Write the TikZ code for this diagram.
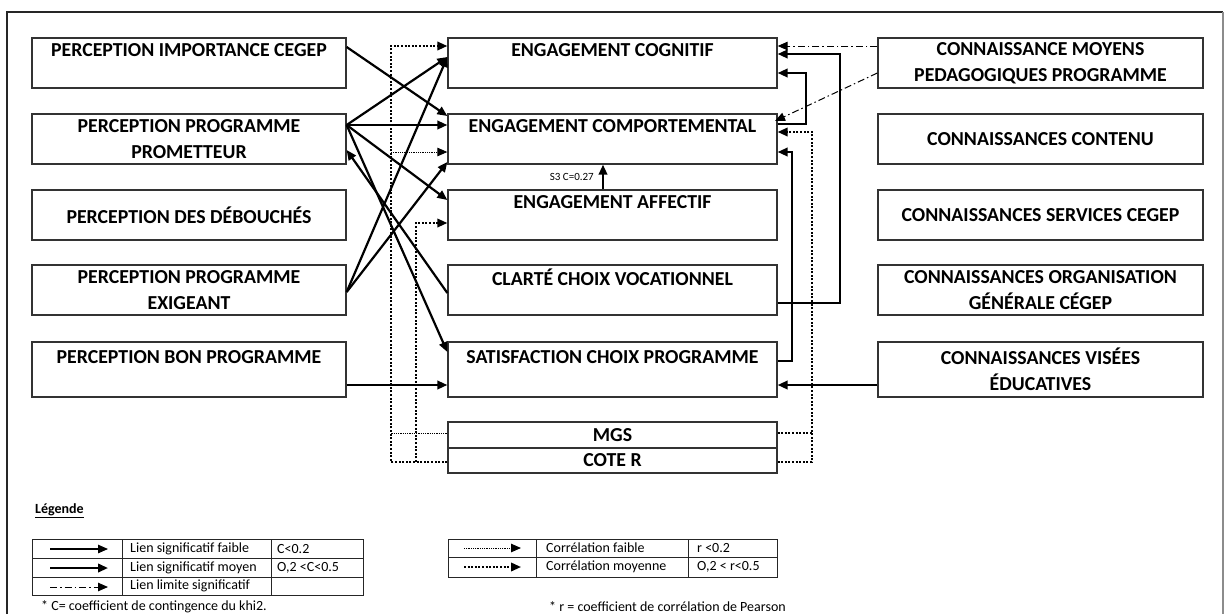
\documentclass[tikz,border=0pt]{standalone}
\usepackage{fontspec}
\setmainfont{Carlito}
\usetikzlibrary{arrows.meta,calc}
\begin{document}
\begin{tikzpicture}[x=1pt,y=-1pt,
  box/.style={draw=black!80, line width=1.3pt, align=center, inner sep=0pt,
    font=\bfseries\fontsize{19.8}{26}\selectfont, text=black},
  lbox/.style={box, minimum width=314pt},
  mbox/.style={box, minimum width=329pt},
  rbox/.style={box, minimum width=325pt},
  tip/.style={-{Triangle[length=10pt,width=8.5pt]}},
  sarrow/.style={line width=2.2pt, tip, line join=miter},
  thinarrow/.style={line width=1.1pt, tip},
  ddarrow/.style={line width=1pt, dash pattern=on 7pt off 3pt on 1.5pt off 3pt, tip},
  dotm/.style={line width=2pt, dash pattern=on 2pt off 1.6pt},
  dotmarrow/.style={dotm, tip},
  dotf/.style={line width=1pt, dash pattern=on 1pt off 0.8pt},
  dotfarrow/.style={dotf, tip},
  tab/.style={draw=black!85, line width=1pt},
  legtxt/.style={font=\fontsize{14}{16}\selectfont, anchor=west, inner sep=0pt}
]
\useasboundingbox (0,0) rectangle (1225,614);
% frame
\draw[line width=2pt, black!85] (7,614) -- (7,12) -- (1223,12);
\draw[line width=1.2pt, black!45] (1223,12) -- (1223,614);

% left column
\node[lbox, minimum height=50pt] (L1) at (189,63) {PERCEPTION IMPORTANCE CEGEP\\\mbox{}};
\node[lbox, minimum height=50pt] (L2) at (189,139) {PERCEPTION PROGRAMME\\PROMETTEUR};
\node[lbox, minimum height=50pt] (L3) at (189,215) {PERCEPTION DES DÉBOUCHÉS};
\node[lbox, minimum height=50pt] (L4) at (189,290) {PERCEPTION PROGRAMME\\EXIGEANT};
\node[lbox, minimum height=55pt] (L5) at (189,369.5) {PERCEPTION BON PROGRAMME\\\mbox{}};

% middle column
\node[mbox, minimum height=50pt] (M1) at (612.5,63) {ENGAGEMENT COGNITIF\\\mbox{}};
\node[mbox, minimum height=50pt] (M2) at (612.5,139) {ENGAGEMENT COMPORTEMENTAL\\\mbox{}};
\node[mbox, minimum height=50pt] (M3) at (612.5,215) {ENGAGEMENT AFFECTIF\\\mbox{}};
\node[mbox, minimum height=50pt] (M4) at (612.5,290) {CLARTÉ CHOIX VOCATIONNEL\\\mbox{}};
\node[mbox, minimum height=55pt] (M5) at (612.5,369.5) {SATISFACTION CHOIX PROGRAMME\\\mbox{}};
\node[mbox, minimum height=26pt] (MGS) at (612.5,435) {MGS};
\node[mbox, minimum height=25pt] (CR) at (612.5,460.5) {COTE R};

% right column
\node[rbox, minimum height=50pt] (R1) at (1040.5,63) {CONNAISSANCE MOYENS\\PEDAGOGIQUES PROGRAMME};
\node[rbox, minimum height=50pt] (R2) at (1040.5,139) {CONNAISSANCES CONTENU};
\node[rbox, minimum height=50pt] (R3) at (1040.5,215) {CONNAISSANCES SERVICES CEGEP};
\node[rbox, minimum height=50pt] (R4) at (1040.5,290) {CONNAISSANCES ORGANISATION\\GÉNÉRALE CÉGEP};
\node[rbox, minimum height=55pt] (R5) at (1040.5,369.5) {CONNAISSANCES VISÉES\\ÉDUCATIVES};

% left-side solid arrows
\draw[sarrow] (L1.east|-0,47) -- (M2.west|-0,116);
\draw[sarrow] (L2.east|-0,125) -- (M1.west|-0,57);
\draw[sarrow] (L2.east|-0,125) -- (M2.west|-0,125);
\draw[sarrow] (L2.east|-0,125) -- (M3.west|-0,200);
\draw[sarrow] (L2.east|-0,125) -- (M5.west|-0,352);
\draw[sarrow] (M4.west|-0,293) -- (L2.east|-0,150);
\draw[sarrow] (L4.east|-0,292) -- (M1.west|-0,57);
\draw[sarrow] (L4.east|-0,292) -- (M2.west|-0,162);
\draw[sarrow] (L5.east|-0,385) -- (M5.west|-0,385);

% S3 arrow
\draw[sarrow] (M3.north-|603,0) -- (M2.south-|603,0);
\node[font=\fontsize{11}{12}\selectfont, anchor=east, inner sep=0pt] (s3) at (594,177) {S3 C=0.27};

% right-side solid arrows
\coordinate (k1) at (792,361);
\coordinate (k2) at (840,303);
\coordinate (k3) at (806,124);
\draw[sarrow] (M5.east|-k1) -- (k1) -- (792,152) -- (M2.east|-0,152);
\draw[sarrow] (M4.east|-k2) -- (k2) -- (840,54) -- (M1.east|-0,54);
\draw[sarrow] (M2.east|-k3) -- (k3) -- (806,73) -- (M1.east|-0,73);
\draw[sarrow] (R5.west|-0,385) -- (M5.east|-0,385);

% dash-dot links
\draw[ddarrow] (R1.west|-0,46) -- (M1.east|-0,46);
\draw[ddarrow] (R1.west|-0,73) -- (775,121);

% dotted correlations (left)
\coordinate (d1) at (391,462);
\coordinate (d2) at (416,462);
\coordinate (d3) at (391,152);
\coordinate (d4) at (391,433);
\draw[dotmarrow] (CR.west|-d1) -- (d1) -- (391,46) -- (M1.west|-0,46);
\draw[dotmarrow] (d2) -- (416,223) -- (M3.west|-0,223);
\draw[dotfarrow] (d3) -- (M2.west|-d3);
\draw[dotf] (MGS.west|-d4) -- (d4);

% dotted correlations (right)
\coordinate (e1) at (812,462);
\coordinate (e2) at (812,433);
\draw[dotmarrow] (CR.east|-e1) -- (e1) -- (812,132) -- (M2.east|-0,132);
\draw[dotm] (MGS.east|-e2) -- (e2);

% legend
\node[font=\bfseries\fontsize{14}{16}\selectfont, anchor=west, inner sep=0pt] (leg) at (35,511) {\underline{Légende}};

% table 1
\draw[tab] (32,539) rectangle (363,595);
\draw[tab] (32,558) -- (363,558) (32,577) -- (363,577) (122,539) -- (122,595) (271,539) -- (271,595);
\node[legtxt] (t11) at (130,548.5) {Lien significatif faible};
\node[legtxt] (t12) at (277,548.5) {C<0.2};
\node[legtxt] (t21) at (130,567.5) {Lien significatif moyen};
\node[legtxt] (t22) at (277,567.5) {O,2 <C<0.5};
\node[legtxt] (t31) at (130,585.5) {Lien limite significatif};
\coordinate (a1s) at (50,549); \coordinate (a1e) at (108,549);
\coordinate (a2s) at (50,568); \coordinate (a2e) at (108,568);
\coordinate (a3s) at (50,587); \coordinate (a3e) at (108,587);
\draw[thinarrow] (a1s) -- (a1e);
\draw[sarrow] (a2s) -- (a2e);
\draw[ddarrow] (a3s) -- (a3e);
\node[legtxt] (f1) at (41,607) {* C= coefficient de contingence du khi2.};

% table 2
\draw[tab] (448,539) rectangle (777,577);
\draw[tab] (448,557) -- (777,557) (536,539) -- (536,577) (688,539) -- (688,577);
\node[legtxt] (u11) at (546,547.5) {Corrélation faible};
\node[legtxt] (u12) at (697,547.5) {r <0.2};
\node[legtxt] (u21) at (546,566.5) {Corrélation moyenne};
\node[legtxt] (u22) at (697,566.5) {O,2 < r<0.5};
\coordinate (b1s) at (464,548); \coordinate (b1e) at (521,548);
\coordinate (b2s) at (464,567); \coordinate (b2e) at (521,567);
\draw[dotfarrow] (b1s) -- (b1e);
\draw[dotmarrow] (b2s) -- (b2e);
\node[legtxt] (f2) at (549,607) {* r = coefficient de corrélation de Pearson};
\end{tikzpicture}
\end{document}
